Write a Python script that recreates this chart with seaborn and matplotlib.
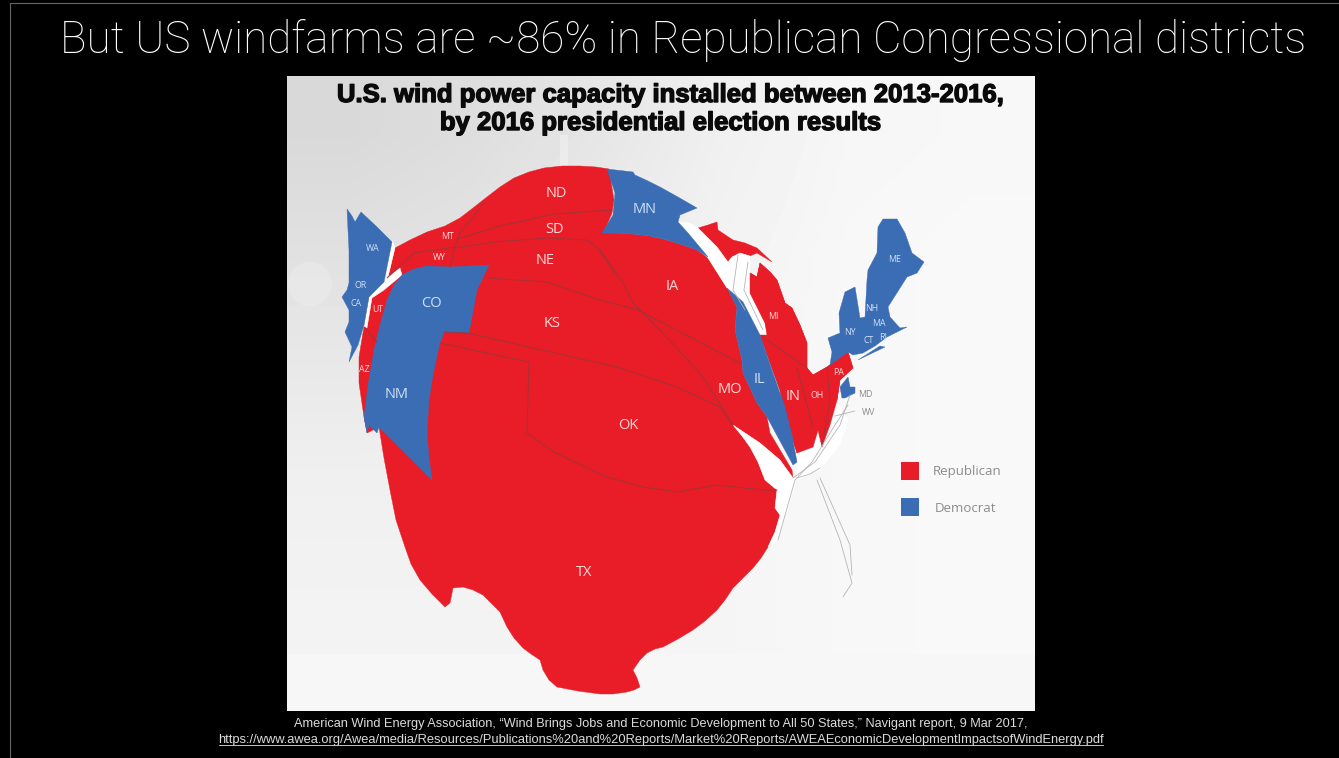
import numpy as np
import pandas as pd
import matplotlib
matplotlib.use("Agg")
import matplotlib.pyplot as plt
import matplotlib.patheffects as pe
import seaborn as sns

W, H = 1339, 758

slide_title = "But US windfarms are ~86% in Republican Congressional districts"
map_title = ["U.S. wind power capacity installed between 2013-2016,",
             "by 2016 presidential election results"]
source_lines = ["American Wind Energy Association, \u201cWind Brings Jobs and Economic Development to All 50 States,\u201d Navigant report, 9 Mar 2017,",
                "https://www.awea.org/Awea/media/Resources/Publications%20and%20Reports/Market%20Reports/AWEAEconomicDevelopmentImpactsofWindEnergy.pdf"]

RED = "#e81d27"
BLUE = "#3b6db5"

# background shades of the map picture (top to bottom, left to right)
bg_shades = [[.85, .87, .90, .94, .965, .97],
             [.88, .89, .92, .95, .97, .975],
             [.91, .92, .94, .96, .97, .975],
             [.94, .94, .95, .96, .97, .975],
             [.95, .95, .955, .96, .97, .975]]

# cartogram outlines, in picture units
red_main = [(395,248),(410,240),(427,232),(445,226),(460,218),(473,208),(487,197),(500,187),(514,178),(529,172),(544,168),(562,166),
            (580,166),(596,167),(609,169),(614,200),(612,213),(604,232),(618,233),(633,234),(650,236),(667,240),(683,245),(697,250),
            (708,258),(727,288),(737,307),(735,330),(742,360),(743,373),(757,403),(767,417),(770,433),(792,470),(793,478),
            (780,460),(760,443),(733,425),(742,436),(750,447),(758,462),(765,480),(777,490),(775,508),(780,515),(775,532),(768,547),
            (761,558),(753,568),(743,578),(733,588),(725,600),(717,610),(705,621),(693,630),(678,639),(663,647),(655,649),(647,653),
            (640,660),(633,670),(637,678),(640,687),(634,690),(627,692),(613,694),(600,694),(578,691),(557,687),(549,680),(543,670),
            (540,660),(531,654),(523,648),(514,638),(507,627),(500,612),(491,603),(483,595),(473,590),(463,587),(453,588),(450,603),
            (445,607),(432,594),(420,580),(411,564),(405,547),(396,520),(390,490),(384,458),(379,427),(367,433),(364,417),(359,383),
            (359,357),(364,327),(369,297),(384,284),(400,270),(388,277)]
red_wi = [(698,228),(708,225),(717,222),(718,230),(733,240),(745,243),(757,248),(772,262),(757,253),(750,256),(740,253),(732,257),
          (728,262),(717,247),(707,237)]
red_mi = [(750,273),(757,277),(760,263),(770,272),(777,280),(785,303),(792,308),(800,325),(807,343),(807,368),(813,375),(827,367),
          (848,352),(853,368),(840,380),(837,400),(830,425),(822,447),(818,430),(813,447),(797,453),(788,425),(780,390),(760,335),
          (767,335),(765,323),(750,293)]
blue_west = [(347,209),(352,216),(355,222),(361,212),(377,227),(392,242),(384,282),(369,297),(364,325),(358,345),(349,362),(352,347),
             (345,332),(349,322),(349,310),(342,297),(347,290),(349,283),(349,250),(348,230)]
blue_co_nm = [(402,275),(414,269),(427,266),(450,267),(470,266),(489,265),(477,290),(469,333),(444,332),(439,347),(433,375),(429,400),
              (427,433),(429,458),(432,480),(405,453),(379,427),(377,433),(369,425),(367,433),(364,417),(368,385),(374,350),(380,325),
              (387,300),(394,285)]
blue_mn = [(607,169),(633,172),(635,175),(648,181),(660,187),(678,197),(697,208),(680,215),(678,222),(688,233),(708,257),(697,250),
           (683,245),(667,240),(650,236),(633,234),(602,233),(613,215),(615,193)]
blue_il = [(727,288),(743,302),(760,335),(772,370),(785,407),(792,435),(797,462),(793,465),(767,417),(757,403),(743,373),(742,360),
           (735,330),(737,307)]
blue_ne = [(828,338),(840,333),(839,313),(845,292),(855,287),(860,318),(865,317),(867,280),(868,270),(877,253),(878,227),(883,219),
           (897,219),(905,233),(912,253),(924,262),(917,273),(907,277),(900,288),(888,307),(890,317),(900,328),(907,327),(897,332),
           (887,337),(875,346),(863,353),(853,355),(848,352),(830,365),(832,352)]
blue_li = [(858,360),(880,346),(885,347),(862,358)]
blue_md = [(840,387),(848,377),(850,387),(855,387),(855,393),(845,398),(842,398)]
white_lake = [(678,222),(690,223),(698,228),(717,247),(728,262),(732,257),(740,253),(750,256),(750,273),(750,293),(765,323),(767,335),
              (760,335),(743,302),(727,288),(708,258),(688,233)]
white_wedge = [(733,425),(760,443),(780,460),(793,478),(777,490),(765,480),(758,462),(750,447),(742,436)]
white_coast = [(777,490),(793,478),(797,478),(778,540),(768,547),(775,532),(780,515),(775,508)]
white_gulf = [(797,453),(813,447),(818,430),(822,447),(837,400),(848,420),(840,445),(820,470),(797,480)]
white_gap_w = [(392,240),(395,248),(388,277),(400,268),(402,275),(384,290),(372,298),(367,328),(364,326),(369,296),(384,281)]

# state borders (dark lines on the red)
borders = {
    "nd_sd": [(612,210),(554,214),(500,226),(457,239)],
    "mt_wy": [(455,247),(414,253),(387,278)],
    "mt_nd": [(484,203),(460,233),(454,250),(450,267)],
    "sd_ne": [(454,248),(494,242),(547,238),(587,240),(597,247),(615,273)],
    "ia_w": [(600,250),(623,283),(633,303),(638,308),(677,348),(703,377),(733,425)],
    "ks_n": [(487,278),(547,282),(600,300),(638,310),(740,363)],
    "ks_s": [(444,332),(467,333),(617,367),(677,387),(720,407),(733,425)],
    "ok": [(440,343),(529,362),(527,433),(554,452),(587,468),(607,477),(643,487),(677,492),(717,485),(763,490),(777,490)],
    "mi_in": [(763,337),(807,368)],
    "in_oh": [(797,368),(813,427)],
    "oh_pa": [(827,368),(830,400),(822,445)],
    "ut_az": [(365,328),(377,342)],
}
coast_lines = {
    "fl_w": [(817,480),(840,540),(852,583),(843,597)],
    "fl_e": [(820,478),(850,545),(852,575)],
    "atl": [(793,478),(815,462),(840,425),(850,395)],
    "atl2": [(778,540),(795,480),(812,462),(835,425),(848,405)],
    "ky": [(797,478),(810,474),(820,468)],
    "lake": [(738,255),(733,290),(745,310)],
    "lake2": [(748,262),(744,290),(763,330)],
    "wv": [(835,416),(855,411)],
}

state_names = ["ND","SD","NE","KS","OK","TX","MN","IA","MO","IL","IN","CO","NM"]
state_x = [556,554,545,552,628,584,645,672,730,759,793,431,397]
state_y = [192,228,259,322,424,571,208,285,388,378,395,302,393]
small_names = ["MT","WY","WA","OR","CA","UT","AZ","MI","OH","PA","NY","CT","MA","NH","ME","RI"]
small_x = [448,439,373,361,356,378,364,773,817,839,850,869,879,872,895,883]
small_y = [235,256,247,284,302,308,368,315,394,371,331,339,322,307,258,336]
outside_names = ["MD","WV"]
outside_x = [865,869]
outside_y = [393,411]

legend_labels = ["Republican", "Democrat"]
legend_x = [910, 910]
legend_y = [471, 507]
legend_colors = [RED, BLUE]

sns.set_theme(style="white")
plt.rcParams["font.family"] = ["Liberation Sans", "DejaVu Sans"]

fig = plt.figure(figsize=(W/100, H/100), dpi=100, facecolor="black")
ax = fig.add_axes([0, 0, 1, 1])
ax.set_xlim(0, W); ax.set_ylim(H, 0); ax.axis("off")

# slide frame hairlines
ax.plot([9.5, 9.5], [3, H], color="#666666", lw=0.8)
ax.plot([9.5, W], [3, 3], color="#666666", lw=0.8)

# picture background
ax.imshow(np.array(bg_shades), cmap="gray", vmin=0, vmax=1, extent=(287, 1035, 654, 76),
          interpolation="bilinear", aspect="auto", zorder=1)
ax.fill([287,1035,1035,287], [654,654,711,711], color="#f7f7f7", lw=0, zorder=1)
ax.fill([560,568,568,560], [135,135,170,170], color="white", alpha=.3, lw=0, zorder=1)
ax.add_patch(plt.Circle((310, 284), 22, color="white", alpha=.2, lw=0, zorder=1))
ax.set_xlim(0, W); ax.set_ylim(H, 0)

def poly(pts, color, z=2):
    xs, ys = zip(*pts)
    ax.fill(xs, ys, color=color, lw=0.3, zorder=z)

for p in (red_main, red_wi, red_mi):
    poly(p, RED, 2)
for p in (white_lake, white_wedge, white_coast, white_gulf, white_gap_w):
    poly(p, "white", 3)
for p in (blue_west, blue_co_nm, blue_mn, blue_il, blue_ne, blue_li, blue_md):
    poly(p, BLUE, 4)
poly(red_mi, RED, 3)

for name, pts in borders.items():
    df = pd.DataFrame(pts, columns=["x", "y"])
    sns.lineplot(data=df, x="x", y="y", sort=False, estimator=None, ax=ax,
                 color="#a03539", lw=0.75, alpha=.95, zorder=5)
for name, pts in coast_lines.items():
    df = pd.DataFrame(pts, columns=["x", "y"])
    sns.lineplot(data=df, x="x", y="y", sort=False, estimator=None, ax=ax,
                 color="#b5b5b5", lw=0.6, zorder=5)
ax.set_xlim(0, W); ax.set_ylim(H, 0); ax.axis("off")

def label(x, y, s, color, size):
    ax.text(x, y + 1.5, s, color=color, fontsize=size, family="Open Sans", ha="center", va="center", zorder=6)

for n, x, y in zip(state_names, state_x, state_y):
    label(x, y, n, "#cfe0f5" if n in ("MN","IL","CO","NM") else "#ffd9d9", 10.5)
for n, x, y in zip(small_names, small_x, small_y):
    label(x, y, n, "#cfe0f5" if n in ("WA","OR","CA","NY","CT","MA","NH","ME","RI") else "#ffd9d9", 6.3)
for n, x, y in zip(outside_names, outside_x, outside_y):
    label(x, y, n, "#8a8a8a", 6.3)

legend_df = pd.DataFrame({"x": legend_x, "y": legend_y, "party": legend_labels})
sns.scatterplot(data=legend_df, x="x", y="y", hue="party", palette=legend_colors, marker="s",
                s=150, linewidth=0, legend=False, ax=ax, zorder=6)
ax.set_xlim(0, W); ax.set_ylim(H, 0); ax.axis("off")
ax.text(967, 472, legend_labels[0], color="#8c8c8c", fontsize=9.5, family="Open Sans", ha="center", va="center", zorder=6)
ax.text(965, 508, legend_labels[1], color="#8c8c8c", fontsize=9.5, family="Open Sans", ha="center", va="center", zorder=6)

ax.text(683, 41, slide_title, color="white", fontsize=31.7, family="Roboto", fontweight="light",
        ha="center", va="center", zorder=7)
for line, x, y in zip(map_title, (671, 661), (95, 123)):
    ax.text(x, y, line, color="#0a0a0a", fontsize=18.5, fontweight="bold",
            ha="center", va="center", zorder=7,
            path_effects=[pe.withStroke(linewidth=1.0, foreground="#0a0a0a")])
ax.text(661, 723.5, source_lines[0], color="#dcdcdc", fontsize=9.2, ha="center", va="center", zorder=7)
ax.text(661, 740, source_lines[1], color="#dcdcdc", fontsize=9.27, ha="center", va="center", zorder=7)
ax.plot([219, 1103], [744.8, 744.8], color="#c4c4c4", lw=0.7, zorder=7)

fig.savefig("out.png", dpi=100, facecolor="black")
